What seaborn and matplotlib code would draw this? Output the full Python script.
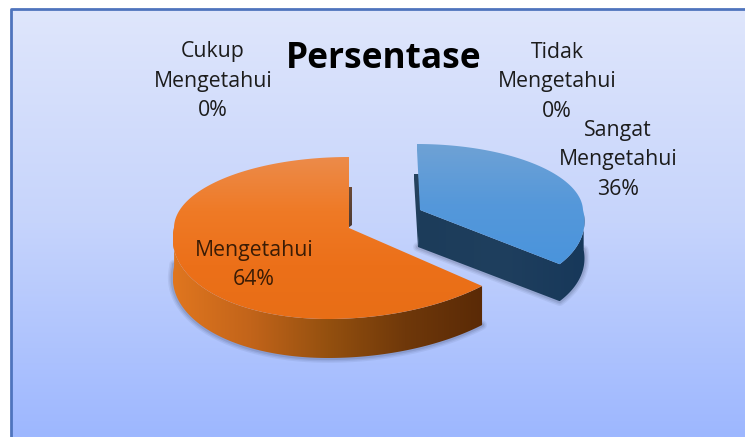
import numpy as np
import matplotlib
matplotlib.use('Agg')
import matplotlib.pyplot as plt
import seaborn as sns
from matplotlib.patches import Polygon

# Data
kategori = ['Sangat Mengetahui', 'Mengetahui', 'Cukup Mengetahui', 'Tidak Mengetahui']
persen = [36, 64, 0, 0]
judul = 'Persentase'

sns.set_theme(style='white')
plt.rcParams['font.family'] = ['Open Sans', 'DejaVu Sans']

# Posisi label (pixel)
posisi_label = [(618, 160), (254, 265), (213, 81), (557, 82)]

# Bentuk tiap irisan pie "3D" (pixel)
bentuk = {
    'Sangat Mengetahui': dict(cx=420, cy=210, rx=163, rx_kanan=163, up=66, down=85, lean_up=0.05, lean=0.26, tebal=37),
    'Mengetahui': dict(cx=349, cy=228, rx=175, rx_kanan=190, up=71, down=91, lean_up=0.0, lean=-0.23, tebal=39),
}


def tepi(g, theta):
    theta = np.radians(np.asarray(theta, dtype=float))
    X, Y = np.sin(theta), np.cos(theta)
    v = np.where(Y > 0, -g['up'] * Y, -g['down'] * Y)
    rx = np.where(X > 0, g['rx_kanan'], g['rx'])
    x = g['cx'] + rx * X + np.where(v > 0, g['lean'] * v, g['lean_up'] * v)
    return x, g['cy'] + v


def isi_gradien(ax, xy, warna, arah='v', n=256):
    # gradien dipotong mengikuti bentuk polygon
    xy = np.asarray(xy)
    x0, x1 = xy[:, 0].min(), xy[:, 0].max()
    y0, y1 = xy[:, 1].min(), xy[:, 1].max()
    pal = np.array(sns.blend_palette(warna, n))[:, :3]
    img = pal[:, None, :] if arah == 'v' else pal[None, :, :]
    im = ax.imshow(img, extent=(x0, x1, y1, y0), aspect='auto', interpolation='bilinear', zorder=ax.zo)
    poly = Polygon(xy, closed=True, transform=ax.transData, fc='none', ec='none')
    ax.add_patch(poly)
    im.set_clip_path(poly)
    ax.zo += 0.1


def bayangan(ax, x, y):
    for lw, a in zip((7, 5, 3), (0.07, 0.09, 0.12)):
        ax.plot(x, y, color='#26304f', lw=lw, alpha=a, solid_capstyle='round', zorder=ax.zo)
    ax.zo += 0.1


fig = plt.figure(figsize=(7.45, 4.37), dpi=100, facecolor='white')
ax = fig.add_axes([0, 0, 1, 1])
ax.zo = 2

# Latar belakang
isi_gradien(ax, [(11, 9), (745, 9), (745, 437), (11, 437)], ['#dfe6fb', '#c6d4fc', '#9db7ff'])
ax.plot([11, 11, 745], [437, 9, 9], color='#4f74bd', lw=2, zorder=ax.zo)

sudut = np.cumsum([0] + persen[:2]) * 3.6

# Irisan biru
g = bentuk[kategori[0]]
a0, a1 = sudut[0], sudut[1]
xa, ya = tepi(g, [a0, a1])
th = np.linspace(92, a1, 40)
xw, yw = tepi(g, th)
xb = np.r_[xw, g['cx'] - 2]
yb = np.r_[yw + g['tebal'], g['cy'] + g['tebal']]
bayangan(ax, xb, yb)
# sisi kiri tipis
isi_gradien(ax, [(xa[0] - 3, ya[0] + 30), (xa[0] + 2, ya[0] + 30), (g['cx'] + 1, g['cy'] + 4),
                 (g['cx'] - 2, g['cy'] + g['tebal'])], ['#26435f', '#1d3c59'])
dinding = np.r_[np.c_[xw, yw], [[g['cx'], g['cy']]], [[g['cx'] - 2, g['cy'] + g['tebal']]], np.c_[xw, yw + g['tebal']][::-1]]
isi_gradien(ax, dinding, ['#1c3c5a', '#1f3f5e', '#17385a'], arah='h')
th = np.linspace(a0, a1, 120)
xt, yt = tepi(g, th)
isi_gradien(ax, np.r_[[[g['cx'], g['cy']]], np.c_[xt, yt]], ['#6fa2d5', '#5598da', '#4a94dc'])

# Irisan oranye
g = bentuk[kategori[1]]
a0, a1 = sudut[1], sudut[2]
xa, ya = tepi(g, [a0, a1])
th = np.linspace(a0, 272, 120)
xw, yw = tepi(g, th)
bayangan(ax, xw, yw + g['tebal'])
isi_gradien(ax, [(g['cx'] - 1, g['cy'] - 41), (g['cx'] + 3, g['cy'] - 41), (g['cx'] + 3, g['cy'] - 3),
                 (g['cx'] - 1, g['cy'])], ['#6b4a35', '#4a3a35'])
dinding = np.r_[np.c_[xw, yw], np.c_[xw, yw + g['tebal']][::-1]]
isi_gradien(ax, dinding, ['#5a2a06', '#6f380a', '#94500f', '#c2641a', '#e0761f'][::-1], arah='h')
th = np.linspace(a0, a1, 160)
xt, yt = tepi(g, th)
isi_gradien(ax, np.r_[[[g['cx'], g['cy']]], np.c_[xt, yt]], ['#ec8b4a', '#ef7a26', '#ec7019', '#e86e16'])

# Teks
warna_teks = ['#1c1c1c', '#3a1c05', '#1c1c1c', '#1c1c1c']
for kat, nilai, (px, py), wr in zip(kategori, persen, posisi_label, warna_teks):
    ax.text(px, py, kat.replace(' ', '\n') + f'\n{nilai}%', ha='center', va='center',
            fontsize=15.3, color=wr, linespacing=1.55, zorder=50)
ax.text(384, 59, judul, ha='center', va='center', fontsize=25.4, fontweight='bold',
        color='black', zorder=50)

ax.set_xlim(0, 745)
ax.set_ylim(437, 0)
ax.axis('off')
fig.savefig('out.png', dpi=100, facecolor='white')
